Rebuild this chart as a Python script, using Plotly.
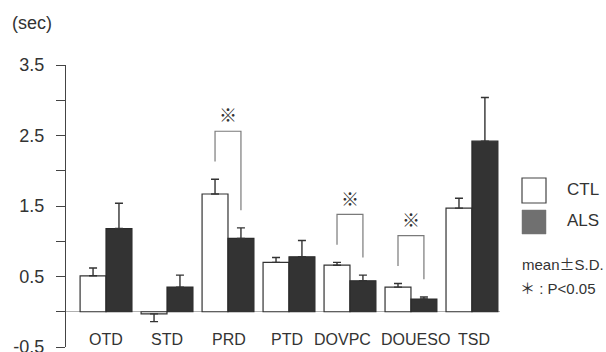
import plotly.graph_objects as go

categories = ["OTD", "STD", "PRD", "PTD", "DOVPC", "DOUESO", "TSD"]
ctl_mean = [0.51, -0.03, 1.67, 0.70, 0.66, 0.35, 1.47]
ctl_sd = [0.11, 0.11, 0.21, 0.07, 0.04, 0.05, 0.14]
als_mean = [1.18, 0.35, 1.04, 0.78, 0.44, 0.18, 2.42]
als_sd = [0.36, 0.17, 0.15, 0.23, 0.08, 0.03, 0.62]
significant = ["PRD", "DOVPC", "DOUESO"]
ytick_vals = [-0.5, 0, 0.5, 1.0, 1.5, 2.0, 2.5, 3.0, 3.5]
ytick_text = ["-0.5", "", "0.5", "", "1.5", "", "2.5", "", "3.5"]

# small horizontal nudges (px) of the category labels, as in the original typesetting
label_nudge = [0, 0, 1, -2, -7, 5, 2]

FONT = "Liberation Sans"
CJK = "Noto Sans CJK JP"
TXT = "#333333"
BARGAP = 0.15
half = (1 - BARGAP) / 4  # offset of each bar centre from the category centre

W, H = 606, 352
ML, MR, MT, MB = 66, 106, 65, 5
PW, PH = W - ML - MR, H - MT - MB

xs = list(range(len(categories)))


def one_sided(means, sds):
    up = [s if m >= 0 else 0 for m, s in zip(means, sds)]
    down = [s if m < 0 else 0 for m, s in zip(means, sds)]
    return up, down


def px(xp, yp):
    """figure pixel -> paper coordinates"""
    return (xp - ML) / PW, (H - MB - yp) / PH


ctl_up, ctl_down = one_sided(ctl_mean, ctl_sd)
als_up, als_down = one_sided(als_mean, als_sd)

fig = go.Figure()
fig.add_trace(go.Bar(
    x=xs, y=ctl_mean, name="CTL",
    marker=dict(color="white", line=dict(color="#333333", width=1.2)),
    error_y=dict(type="data", symmetric=False, array=ctl_up, arrayminus=ctl_down,
                 color="#333333", thickness=1.4, width=4),
))
fig.add_trace(go.Bar(
    x=xs, y=als_mean, name="ALS",
    marker=dict(color="#333333", line=dict(color="#2a2a2a", width=1.2)),
    error_y=dict(type="data", symmetric=False, array=als_up, arrayminus=als_down,
                 color="#333333", thickness=1.4, width=4),
))

# significance brackets
for cat in significant:
    i = categories.index(cat)
    left_x = i - half
    right_x = i + half
    left_bot = ctl_mean[i] + ctl_up[i] + 0.25
    right_bot = als_mean[i] + als_up[i] + 0.25
    top = max(left_bot, right_bot) + 0.43
    fig.add_shape(type="path",
                  path=f"M {left_x} {left_bot} L {left_x} {top} L {right_x} {top} L {right_x} {right_bot}",
                  xref="x", yref="y", line=dict(color="#7a7a7a", width=1.2))
    fig.add_annotation(x=i, y=top + 0.24, text="※", showarrow=False, xref="x", yref="y",
                       font=dict(family=CJK, size=18, color=TXT))

# category labels inside the plot area
for i, cat in enumerate(categories):
    fig.add_annotation(x=i, y=-0.39, text=cat, showarrow=False, xref="x", yref="y",
                       xshift=label_nudge[i],
                       font=dict(family=FONT, size=16, color=TXT))

# unit label
ux, uy = px(32, 23)
fig.add_annotation(x=ux, y=uy, xref="paper", yref="paper", text="(sec)", showarrow=False,
                   xanchor="center", yanchor="middle",
                   font=dict(family=FONT, size=18, color=TXT))

# legend (manual)
x0, y0 = px(522, 178)
x1, y1 = px(546, 203)
fig.add_shape(type="rect", xref="paper", yref="paper", x0=x0, y0=y0, x1=x1, y1=y1,
              line=dict(color="#444444", width=1.2), fillcolor="white")
x0, y0 = px(522, 210)
x1, y1 = px(546, 234)
fig.add_shape(type="rect", xref="paper", yref="paper", x0=x0, y0=y0, x1=x1, y1=y1,
              line=dict(color="#777777", width=0.5), fillcolor="#707070")

legend_texts = [
    ("CTL", (565, 189), 17),
    ("ALS", (565, 220), 17),
    (f"mean<span style='font-family:{CJK}'>±</span>S.D.", (520, 263), 15),
    (f"<span style='font-family:{CJK}'>＊</span> : P&lt;0.05", (518, 287), 15),
]
for text, (xp, yp), size in legend_texts:
    ax, ay = px(xp, yp)
    fig.add_annotation(x=ax, y=ay, xref="paper", yref="paper", text=text, showarrow=False,
                       xanchor="left", yanchor="middle",
                       font=dict(family=FONT, size=size, color=TXT))

fig.update_layout(
    width=W, height=H,
    margin=dict(l=ML, r=MR, t=MT, b=MB, autoexpand=False),
    plot_bgcolor="white", paper_bgcolor="white",
    barmode="group", bargap=BARGAP, bargroupgap=0,
    showlegend=False,
    xaxis=dict(range=[-0.656, 6.46], showticklabels=False, ticks="", showgrid=False,
               zeroline=False, showline=False, automargin=False),
    yaxis=dict(range=[-0.5, 3.5], tickvals=ytick_vals, ticktext=ytick_text,
               ticks="outside", ticklen=9, tickcolor="#444444", tickwidth=1,
               ticklabelstandoff=8, ticklabeloverflow="allow", automargin=False,
               showline=True, linecolor="#444444", linewidth=1,
               showgrid=False, zeroline=True, zerolinecolor="#b0b0b0", zerolinewidth=1,
               tickfont=dict(family=FONT, size=18, color=TXT)),
)

fig.write_html("out.html", config={"displayModeBar": False},
               post_script="document.body.style.margin='0';document.body.style.overflow='hidden';")
